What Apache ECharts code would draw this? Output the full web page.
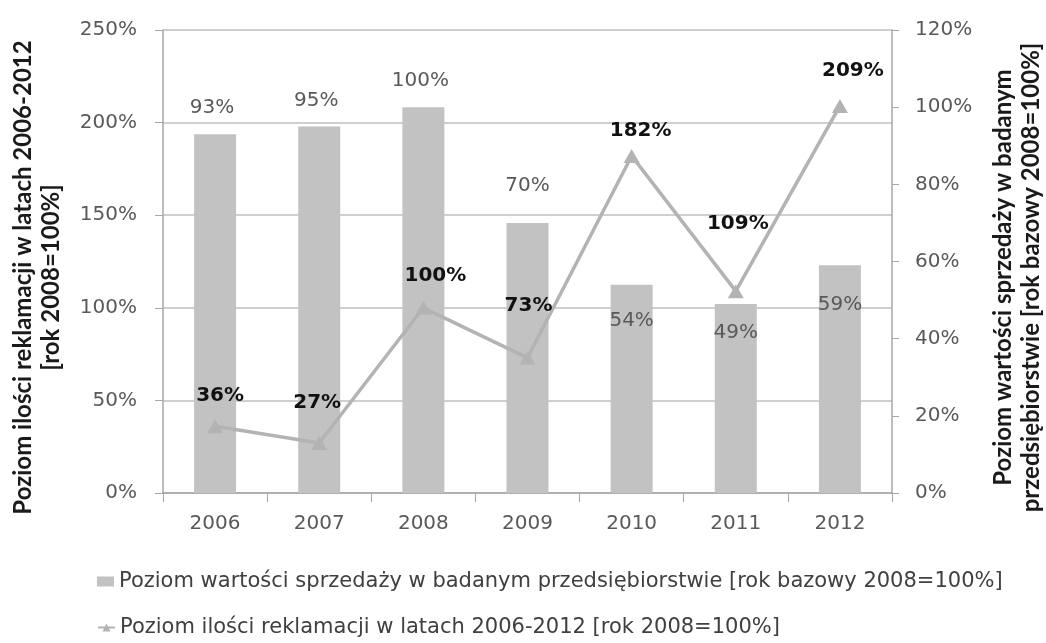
<!DOCTYPE html>
<html>
<head>
<meta charset="utf-8">
<script src="https://cdn.jsdelivr.net/npm/echarts@6/dist/echarts.min.js"></script>
<style>
html,body{margin:0;padding:0;background:#fff;}
#chart{width:1046px;height:643px;}
</style>
</head>
<body>
<div id="chart"></div>
<script>
// ---- data ----
const categories = ['2006', '2007', '2008', '2009', '2010', '2011', '2012'];
const salesLevel = [93, 95, 100, 70, 54, 49, 59];          // right axis, bars
const complaintsLevel = [36, 27, 100, 73, 182, 109, 209];  // left axis, line
const salesName = 'Poziom wartości sprzedaży w badanym przedsiębiorstwie [rok bazowy 2008=100%]';
const complaintsName = 'Poziom ilości reklamacji w latach 2006-2012 [rok 2008=100%]';
const leftAxisTitle = 'Poziom ilości reklamacji w latach 2006-2012\n[rok 2008=100%]';
const rightAxisTitle = 'Poziom wartości sprzedaży w badanym\nprzedsiębiorstwie [rok bazowy 2008=100%]';

// ---- label placement (style only) ----
const barLabelOffsets = [[-3, -16], [-3, -16], [-3, -16], [0, -27], [0, 46], [0, 39], [0, 49]];
const lineLabelOffsets = [[5, -9], [-2, -18], [12, -10], [1, -30], [9, -3], [2, -45], [13, -13]];

const FONT = 'DejaVu Sans';
const TITLE_FONT = 'Lato';
const chart = echarts.init(document.getElementById('chart'));

const barData = salesLevel.map((v, i) => ({
  value: v,
  label: { offset: barLabelOffsets[i] }
}));
const lineData = complaintsLevel.map((v, i) => ({
  value: v,
  label: { offset: lineLabelOffsets[i] }
}));

const titleStyle = {
  fontFamily: TITLE_FONT, fontWeight: 'bold', fontSize: 24, color: '#1a1a1a',
  lineHeight: 28, padding: [0, 32, 0, 0]
};
const legendText = { fontFamily: FONT, fontSize: 21, color: '#404040' };

chart.setOption({
  animation: false,
  backgroundColor: '#ffffff',
  textStyle: { fontFamily: FONT },
  grid: { left: 163, right: 154, top: 30, bottom: 150, containLabel: false, outerBoundsMode: 'none' },
  legend: [
    {
      left: 97, top: 571, itemWidth: 17, itemHeight: 10, padding: 0,
      textStyle: legendText,
      data: [{ name: salesName, icon: 'rect' }]
    },
    {
      left: 97, top: 617, itemWidth: 17, itemHeight: 10, padding: 0,
      textStyle: legendText,
      data: [{ name: complaintsName }]
    }
  ],
  xAxis: {
    type: 'category',
    data: categories,
    axisLine: { lineStyle: { color: '#a6a6a6', width: 1.5 } },
    axisTick: { show: true, length: 9, lineStyle: { color: '#a6a6a6' } },
    axisLabel: { fontFamily: FONT, fontSize: 20, color: '#595959', margin: 21 }
  },
  yAxis: [
    {
      type: 'value',
      position: 'left',
      min: 0, max: 250, interval: 50,
      name: leftAxisTitle,
      nameLocation: 'middle',
      nameRotate: 90,
      nameGap: 98,
      nameTextStyle: titleStyle,
      axisLine: { show: true, lineStyle: { color: '#a6a6a6', width: 1.5 } },
      axisTick: { show: true, length: 8, lineStyle: { color: '#a6a6a6' } },
      axisLabel: { fontFamily: FONT, fontSize: 20, color: '#595959', margin: 26, formatter: '{value}%' },
      splitLine: { show: true, lineStyle: { color: '#bfbfbf', width: 1.5 } }
    },
    {
      type: 'value',
      position: 'right',
      min: 0, max: 120, interval: 20,
      name: rightAxisTitle,
      nameLocation: 'middle',
      nameRotate: 90,
      nameGap: 97,
      nameTextStyle: titleStyle,
      axisLine: { show: true, lineStyle: { color: '#a6a6a6', width: 1.5 } },
      axisTick: { show: true, length: 7, lineStyle: { color: '#a6a6a6' } },
      axisLabel: { fontFamily: FONT, fontSize: 20, color: '#595959', margin: 23, formatter: '{value}%' },
      splitLine: { show: false }
    }
  ],
  series: [
    {
      name: salesName,
      type: 'bar',
      yAxisIndex: 1,
      data: barData,
      barWidth: 42,
      itemStyle: { color: '#c2c2c2' },
      label: {
        show: true,
        position: 'top',
        distance: 0,
        fontFamily: FONT,
        fontSize: 20,
        color: '#595959',
        formatter: '{c}%'
      },
      z: 2
    },
    {
      name: complaintsName,
      type: 'line',
      yAxisIndex: 0,
      data: lineData,
      symbol: 'triangle',
      symbolSize: [16, 14],
      lineStyle: { color: '#b3b3b3', width: 3.5 },
      itemStyle: { color: '#b3b3b3' },
      label: {
        show: true,
        position: 'top',
        distance: 5,
        fontFamily: FONT,
        fontWeight: 'bold',
        fontSize: 20,
        color: '#111111',
        formatter: '{c}%'
      },
      z: 3
    }
  ]
});
</script>
</body>
</html>
